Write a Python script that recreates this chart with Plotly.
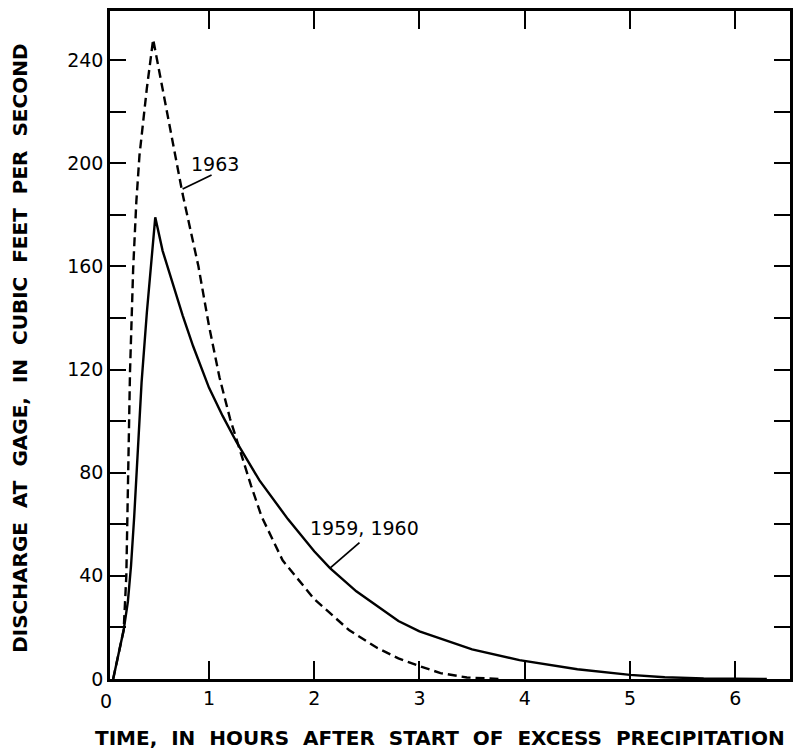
import plotly.graph_objects as go

# Unit hydrographs: discharge at gage (cfs) vs hours after start of excess precipitation
t_1959_1960 = [0.09, 0.14, 0.19, 0.23, 0.26, 0.29, 0.32, 0.36, 0.41, 0.45, 0.49,
               0.56, 0.65, 0.75, 0.85, 1.0, 1.13, 1.26, 1.48, 1.75, 2.0, 2.15, 2.4,
               2.8, 3.0, 3.5, 3.95, 4.5, 5.0, 5.33, 5.7, 6.0, 6.3]
q_1959_1960 = [0, 9, 19, 30, 44, 63, 85, 115, 142, 162, 179,
               166, 154, 141, 129, 113, 102, 92, 77, 62, 49.5, 43, 34,
               22.5, 18.5, 11.5, 7.3, 3.8, 1.6, 0.7, 0.2, 0, 0]

t_1963 = [0.09, 0.14, 0.19, 0.215, 0.225, 0.235, 0.25, 0.28, 0.31, 0.34, 0.41, 0.47,
          0.56, 0.67, 0.75, 0.9, 1.0, 1.1, 1.2, 1.3, 1.4, 1.5, 1.7, 2.0,
          2.33, 2.6, 2.8, 3.0, 3.2, 3.45, 3.75]
q_1963 = [0, 9, 19, 40, 65, 92, 119, 159, 185, 203, 229, 248,
          229, 205, 188, 160, 137, 117, 101, 88, 75, 63, 46, 31,
          19, 12, 8, 5, 2.3, 0.6, 0]

x_ticks = [1, 2, 3, 4, 5, 6]
x_ticktext = ["1", "2", "3", "4", "5", "6"]
y_ticks = list(range(0, 241, 20))
y_ticktext = [str(v) if v % 40 == 0 else "" for v in y_ticks]

# curve labels: (text, label x, label y, leader start x, y, leader end on curve x, y)
labels = [
    ("1963", 1.06, 199.6, 1.025, 195.4, 0.75, 190.0),
    ("1959, 1960", 2.48, 58.7, 2.43, 52.9, 2.15, 43.0),
]

x_title = "TIME, IN HOURS AFTER START OF EXCESS PRECIPITATION"
y_title = "DISCHARGE AT GAGE, IN CUBIC FEET PER SECOND"

FONT = "DejaVu Sans"


def spaced(text, gap):
    """Widen the gaps between words of a lettered caption."""
    return gap.join(text.split(" "))


fig = go.Figure()
fig.add_trace(go.Scatter(
    x=t_1963, y=q_1963, mode="lines",
    line=dict(color="black", width=2.4, dash="9px,5px"),
    showlegend=False, hoverinfo="skip"))
fig.add_trace(go.Scatter(
    x=t_1959_1960, y=q_1959_1960, mode="lines",
    line=dict(color="black", width=2.4),
    showlegend=False, hoverinfo="skip"))

annotations = []
shapes = []
for text, lx, ly, sx, sy, ex, ey in labels:
    annotations.append(dict(x=lx, y=ly, xref="x", yref="y", text=text,
                            showarrow=False, xanchor="center", yanchor="middle",
                            font=dict(family=FONT, size=19, color="black")))
    shapes.append(dict(type="line", xref="x", yref="y", x0=sx, y0=sy, x1=ex, y1=ey,
                       line=dict(color="black", width=1.8)))

# origin label on the time axis, just left of the frame corner
annotations.append(dict(x=-0.006, y=0, xref="paper", yref="paper", text="0", showarrow=False,
                        xanchor="center", yanchor="top", yshift=-9,
                        font=dict(family=FONT, size=19, color="black")))

annotations.append(dict(x=0.4846, y=-0.088, xref="paper", yref="paper",
                        text=spaced(x_title, "\u00a0\u00a0"), showarrow=False,
                        xanchor="center", yanchor="middle",
                        font=dict(family=FONT, size=20, color="black", weight="bold")))
annotations.append(dict(x=-0.1318, y=0.4948, xref="paper", yref="paper",
                        text=spaced(y_title, "\u00a0\u00a0"), showarrow=False,
                        textangle=-90, xanchor="center", yanchor="middle",
                        font=dict(family=FONT, size=20, color="black", weight="bold")))

axis_common = dict(showgrid=False, zeroline=False, showline=True, linecolor="black",
                   linewidth=2.5, mirror="allticks", ticks="inside", tickcolor="black",
                   tickwidth=2, tickfont=dict(family=FONT, size=19, color="black"))

fig.update_layout(
    width=796, height=753,
    margin=dict(l=110, r=3, t=11, b=74),
    paper_bgcolor="white", plot_bgcolor="white",
    xaxis=dict(range=[0.06, 6.52], tickvals=x_ticks, ticktext=x_ticktext,
               ticklen=18, **axis_common),
    yaxis=dict(range=[0, 259], tickvals=y_ticks, ticktext=y_ticktext,
               ticklen=16, **axis_common),
    annotations=annotations,
    shapes=shapes,
)

fig.write_html("out.html")
